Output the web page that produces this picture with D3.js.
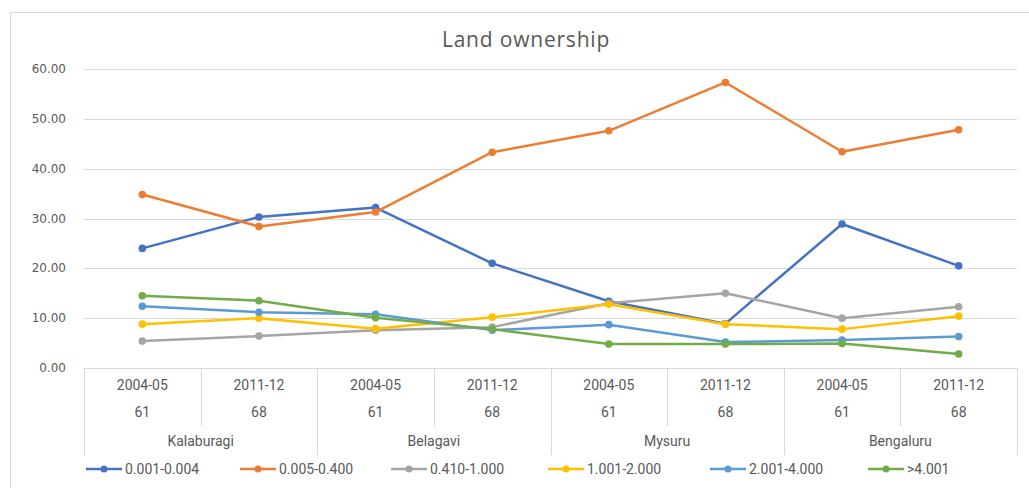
<!DOCTYPE html>
<html>
<head>
<meta charset="utf-8">
<script src="https://cdn.jsdelivr.net/npm/d3@7"></script>
<style>
  body { margin: 0; background: #fff; }
  svg { display: block; }
  .ytick text { font-family: "DejaVu Sans", Verdana, sans-serif; font-size: 12px; fill: #595959; }
  .cat { font-family: "Liberation Sans Narrow", "Roboto", sans-serif; font-size: 14px; fill: #595959; }
</style>
</head>
<body>
<svg id="chart" width="1029" height="488"></svg>
<script>
// categories
const years = ["2004-05", "2011-12", "2004-05", "2011-12", "2004-05", "2011-12", "2004-05", "2011-12"];
const rounds = ["61", "68", "61", "68", "61", "68", "61", "68"];
const districts = ["Kalaburagi", "Belagavi", "Mysuru", "Bengaluru"];

// series
const seriesNames = ["0.001-0.004", "0.005-0.400", "0.410-1.000", "1.001-2.000", "2.001-4.000", ">4.001"];
const seriesColors = ["#4472C4", "#ED7D31", "#A5A5A5", "#FFC000", "#5B9BD5", "#70AD47"];
const s1 = [24.0, 30.3, 32.2, 21.0, 13.4, 8.9, 28.9, 20.5];
const s2 = [34.8, 28.4, 31.3, 43.3, 47.6, 57.3, 43.4, 47.8];
const s3 = [5.4, 6.4, 7.6, 8.2, 13.0, 15.0, 10.0, 12.3];
const s4 = [8.8, 10.0, 7.9, 10.2, 12.8, 8.8, 7.8, 10.4];
const s5 = [12.4, 11.2, 10.8, 7.6, 8.7, 5.2, 5.6, 6.3];
const s6 = [14.5, 13.5, 10.1, 7.8, 4.8, 4.8, 4.9, 2.8];
const seriesValues = [s1, s2, s3, s4, s5, s6];

const yTicks = [0, 10, 20, 30, 40, 50, 60];

const svg = d3.select("#chart");
const plotLeft = 84, plotRight = 1017, plotTop = 69, plotBottom = 368;

// chart frame
svg.append("rect")
    .attr("x", 10.5).attr("y", 12.5)
    .attr("width", 1040).attr("height", 500)
    .attr("fill", "none").attr("stroke", "#d9d9d9");

svg.append("text")
    .attr("x", 526).attr("y", 47)
    .attr("text-anchor", "middle")
    .style("font-family", "'Open Sans', sans-serif")
    .style("font-size", "21px")
    .style("letter-spacing", "0.8px")
    .style("fill", "#595959")
    .text("Land ownership");

const x = d3.scaleBand().domain(d3.range(years.length)).range([plotLeft, plotRight]);
const y = d3.scaleLinear().domain([0, 60]).range([plotBottom, plotTop]);

// gridlines + y labels
const yAxis = svg.append("g").attr("class", "ytick");
yAxis.selectAll("line").data(yTicks.filter(d => d > 0)).join("line")
    .attr("x1", plotLeft).attr("x2", plotRight)
    .attr("y1", d => Math.round(y(d)) + 0.5).attr("y2", d => Math.round(y(d)) + 0.5)
    .attr("stroke", "#d9d9d9").attr("stroke-width", 1);
yAxis.selectAll("text").data(yTicks).join("text")
    .attr("x", 66).attr("y", d => y(d) + 4)
    .attr("text-anchor", "end")
    .text(d => d3.format(".2f")(d));

// category axis
const catAxis = svg.append("g");
catAxis.append("line")
    .attr("x1", plotLeft).attr("x2", plotRight)
    .attr("y1", plotBottom + 0.5).attr("y2", plotBottom + 0.5)
    .attr("stroke", "#d9d9d9");
const bounds = d3.range(years.length + 1);
catAxis.selectAll("line.sep").data(bounds).join("line")
    .attr("class", "sep")
    .attr("x1", i => Math.round(i < years.length ? x(i) : plotRight) + 0.5)
    .attr("x2", i => Math.round(i < years.length ? x(i) : plotRight) + 0.5)
    .attr("y1", plotBottom)
    .attr("y2", i => i % 2 === 0 ? 455 : 426)
    .attr("stroke", "#d9d9d9");
catAxis.selectAll("text.yr").data(years).join("text")
    .attr("class", "cat yr")
    .attr("x", (d, i) => x(i) + x.bandwidth() / 2).attr("y", 390)
    .attr("text-anchor", "middle").text(d => d);
catAxis.selectAll("text.rd").data(rounds).join("text")
    .attr("class", "cat rd")
    .attr("x", (d, i) => x(i) + x.bandwidth() / 2).attr("y", 417)
    .attr("text-anchor", "middle").text(d => d);
catAxis.selectAll("text.ds").data(districts).join("text")
    .attr("class", "cat ds")
    .attr("x", (d, i) => x(i * 2) + x.bandwidth()).attr("y", 446)
    .attr("text-anchor", "middle").text(d => d);

// lines
const line = d3.line().x((d, i) => x(i) + x.bandwidth() / 2).y(d => y(d));
const series = svg.append("g").selectAll("g").data(seriesValues).join("g");
series.append("path")
    .attr("d", d => line(d))
    .attr("fill", "none")
    .attr("stroke", (d, i) => seriesColors[i])
    .attr("stroke-width", 2.5)
    .attr("stroke-linejoin", "round");
series.each(function (vals, si) {
    d3.select(this).selectAll("circle").data(vals).join("circle")
        .attr("cx", (d, i) => x(i) + x.bandwidth() / 2)
        .attr("cy", d => y(d))
        .attr("r", 3.8)
        .attr("fill", seriesColors[si]);
});

// legend
const legend = svg.append("g");
const legendStarts = [86, 240, 391, 548, 710, 868];
seriesNames.forEach((name, i) => {
    const gx = legendStarts[i];
    const item = legend.append("g");
    item.append("line")
        .attr("x1", gx).attr("x2", gx + 36)
        .attr("y1", 469).attr("y2", 469)
        .attr("stroke", seriesColors[i]).attr("stroke-width", 2.5);
    item.append("circle")
        .attr("cx", gx + 18).attr("cy", 469).attr("r", 3.5)
        .attr("fill", seriesColors[i]);
    item.append("text")
        .attr("class", "cat")
        .attr("x", gx + 39).attr("y", 474)
        .text(name);
});
</script>
</body>
</html>
